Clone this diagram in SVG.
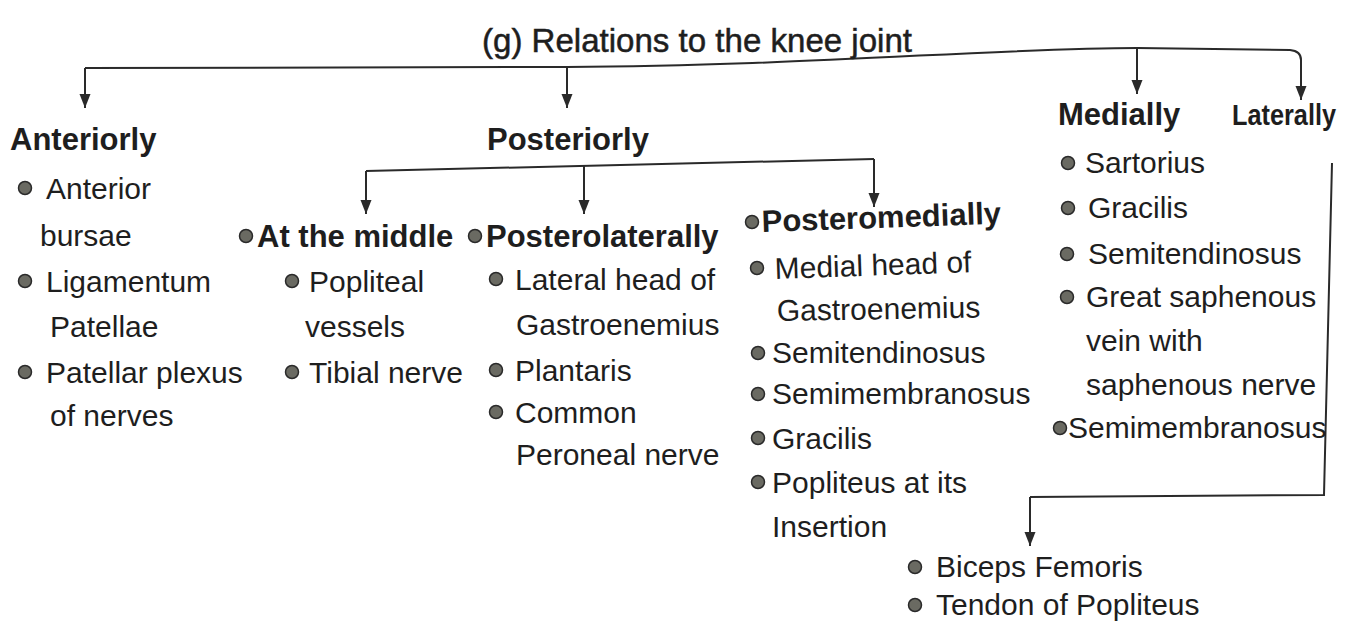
<svg xmlns="http://www.w3.org/2000/svg" width="1355" height="623" viewBox="0 0 1355 623">
<defs>
<marker id="ah" markerUnits="userSpaceOnUse" markerWidth="16" markerHeight="12" refX="14" refY="6" orient="auto" viewBox="0 0 16 12">
<path d="M0,0.5 L14,6 L0,11.5 Z" fill="#2a2a2a"/>
</marker>
</defs>
<style>
text{font-family:"Liberation Sans",Arial,sans-serif;fill:#1e1e1e;}
.t{font-size:33px;stroke:#1e1e1e;stroke-width:0.5;}
.h{font-size:31px;font-weight:bold;}
.i{font-size:30px;}
.b{fill:#6a6a62;stroke:#2a2a2a;stroke-width:1.5;}
.c{fill:none;stroke:#2a2a2a;stroke-width:2;}
.a{fill:none;stroke:#2a2a2a;stroke-width:2;marker-end:url(#ah);}
</style>
<rect width="1355" height="623" fill="#ffffff"/>

<g id="connectors">
<path class="c" d="M85,68 L567,67 C800,66 1000,48 1137,48 L1290,50 Q1301,51 1301,60"/>
<path class="a" d="M85,68 V108"/>
<path class="a" d="M567,67 V108"/>
<path class="a" d="M1137,48 V94"/>
<path class="a" d="M1301,60 V100"/>
<path class="c" d="M366,171 L874,159"/>
<path class="a" d="M366,171 V214"/>
<path class="a" d="M584,166 V214"/>
<path class="a" d="M874,159 V207"/>
<path class="c" d="M1332,163 L1324,495 L1030,497"/>
<path class="a" d="M1030,497 V546"/>
</g>

<g id="title"><text class="t" x="482" y="52" textLength="430" lengthAdjust="spacingAndGlyphs">(g) Relations to the knee joint</text></g>

<g id="anteriorly">
<text class="h" x="10" y="150">Anteriorly</text>
<circle class="b" cx="25" cy="188" r="6.5"/><text class="i" x="46" y="199">Anterior</text>
<text class="i" x="40" y="246">bursae</text>
<circle class="b" cx="25" cy="281" r="6.5"/><text class="i" x="46" y="292">Ligamentum</text>
<text class="i" x="50" y="337">Patellae</text>
<circle class="b" cx="25" cy="372" r="6.5"/><text class="i" x="46" y="383">Patellar plexus</text>
<text class="i" x="50" y="426">of nerves</text>
</g>

<g id="posteriorly"><text class="h" x="487" y="150">Posteriorly</text></g>

<g id="at-the-middle">
<circle class="b" cx="246" cy="236" r="6.5"/><text class="h" x="257" y="247">At the middle</text>
<circle class="b" cx="292" cy="281" r="6.5"/><text class="i" x="309" y="292">Popliteal</text>
<text class="i" x="305" y="337">vessels</text>
<circle class="b" cx="292" cy="372" r="6.5"/><text class="i" x="309" y="383">Tibial nerve</text>
</g>

<g id="posterolaterally">
<circle class="b" cx="475" cy="236" r="6.5"/><text class="h" x="486" y="247">Posterolaterally</text>
<circle class="b" cx="496" cy="279" r="6.5"/><text class="i" x="515" y="290">Lateral head of</text>
<text class="i" x="516" y="335">Gastroenemius</text>
<circle class="b" cx="496" cy="370" r="6.5"/><text class="i" x="515" y="381">Plantaris</text>
<circle class="b" cx="496" cy="412" r="6.5"/><text class="i" x="515" y="423">Common</text>
<text class="i" x="516" y="465">Peroneal nerve</text>
</g>

<g id="posteromedially">
<circle class="b" cx="752" cy="222" r="6.5"/><text class="h" x="762" y="232" transform="rotate(-2 762 232)">Posteromedially</text>
<circle class="b" cx="757" cy="268" r="6.5"/><text class="i" x="775" y="279" transform="rotate(-2 775 279)">Medial head of</text>
<text class="i" x="777" y="321" transform="rotate(-1 777 321)">Gastroenemius</text>
<circle class="b" cx="758" cy="353" r="6.5"/><text class="i" x="772" y="363">Semitendinosus</text>
<circle class="b" cx="758" cy="394" r="6.5"/><text class="i" x="772" y="404">Semimembranosus</text>
<circle class="b" cx="758" cy="438" r="6.5"/><text class="i" x="772" y="449">Gracilis</text>
<circle class="b" cx="758" cy="482" r="6.5"/><text class="i" x="772" y="493">Popliteus at its</text>
<text class="i" x="772" y="537">Insertion</text>
</g>

<g id="medially">
<text class="h" x="1058" y="125">Medially</text>
<circle class="b" cx="1068" cy="163" r="6.5"/><text class="i" x="1085" y="173">Sartorius</text>
<circle class="b" cx="1068" cy="208" r="6.5"/><text class="i" x="1088" y="218">Gracilis</text>
<circle class="b" cx="1067" cy="254" r="6.5"/><text class="i" x="1088" y="264">Semitendinosus</text>
<circle class="b" cx="1067" cy="297" r="6.5"/><text class="i" x="1086" y="307">Great saphenous</text>
<text class="i" x="1086" y="351">vein with</text>
<text class="i" x="1086" y="395">saphenous nerve</text>
<circle class="b" cx="1060" cy="428" r="6.5"/><text class="i" x="1068" y="438">Semimembranosus</text>
</g>

<g id="laterally">
<text class="h" x="1232" y="125" style="font-size:29px" textLength="104" lengthAdjust="spacingAndGlyphs">Laterally</text>
</g>

<g id="lateral-items">
<circle class="b" cx="915" cy="567" r="6.5"/><text class="i" x="936" y="577">Biceps Femoris</text>
<circle class="b" cx="915" cy="605" r="6.5"/><text class="i" x="936" y="615">Tendon of Popliteus</text>
</g>
</svg>
